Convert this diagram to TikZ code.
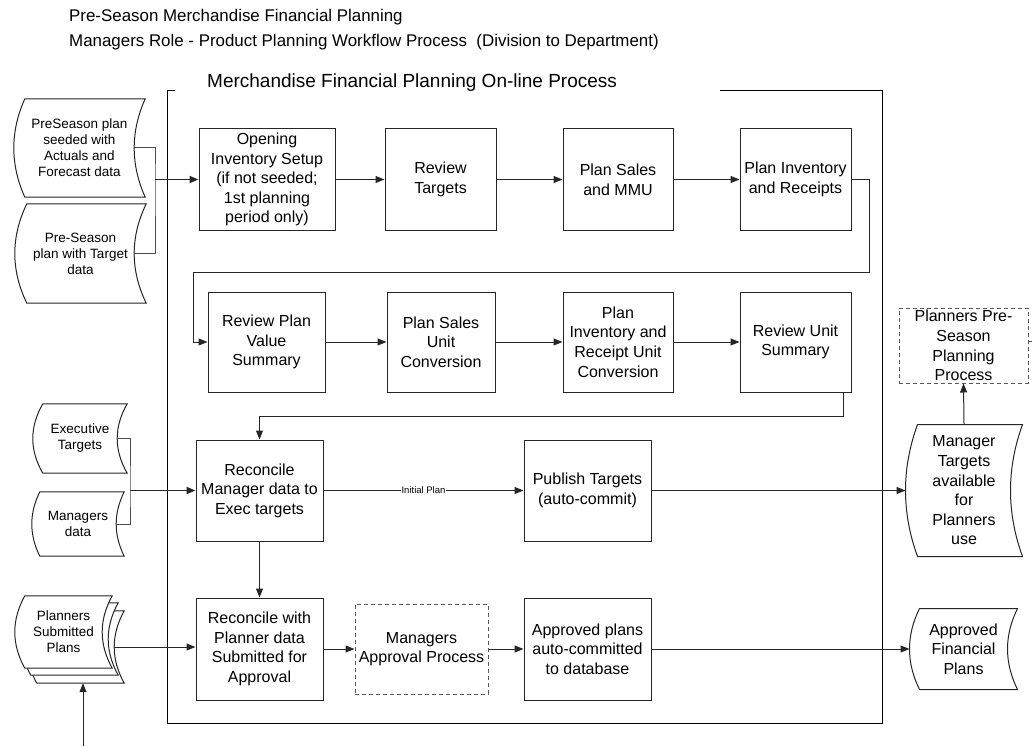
\documentclass[tikz,border=0pt]{standalone}
\usepackage{fontspec}
\setmainfont{Liberation Sans}
\usetikzlibrary{arrows.meta,calc,backgrounds}

\tikzset{
 wh/.style 2 args={minimum width=#1pt,minimum height=#2pt},
 stepbox/.style={draw=black!85,line width=1pt,align=center,inner sep=0pt,
   font=\fontsize{16}{19.6}\selectfont},
 dashbox/.style={stepbox,draw=black!65,dash pattern=on 4pt off 3pt},
 datatext/.style={align=center,inner sep=0pt,font=\fontsize{13.5}{16}\selectfont},
 flow/.style={draw=black!85,line width=1pt,-{Triangle[length=9pt,width=7pt]}},
 feed/.style={flow,line width=1.8pt},
 link/.style={draw=black!70,line width=1pt},
}
% stored data outline round a node: #1 node, #2 bulge
\newcommand\storedoutline[2]{%
 \draw[draw=black!85,line width=1pt,fill=white]
  ($(#1.north west)+(#2/2,0)$) -- ($(#1.north east)+(#2/2,0)$)
  .. controls ($(#1.north east)!.333!(#1.south east)+(#2/2-4*#2/3,0)$)
  and ($(#1.north east)!.667!(#1.south east)+(#2/2-4*#2/3,0)$) .. ($(#1.south east)+(#2/2,0)$)
  -- ($(#1.south west)+(#2/2,0)$)
  .. controls ($(#1.north west)!.667!(#1.south west)+(#2/2-4*#2/3,0)$)
  and ($(#1.north west)!.333!(#1.south west)+(#2/2-4*#2/3,0)$) .. cycle;}

\begin{document}
\begin{tikzpicture}[x=1pt,y=-1pt]
\useasboundingbox (0,0) rectangle (1032,746);
% titles
\node[anchor=west,inner sep=0pt,font=\fontsize{16.9}{20}\selectfont] (title1) at (69,17)
 {Pre-Season Merchandise Financial Planning};
\node[anchor=west,inner sep=0pt,font=\fontsize{16.9}{20}\selectfont] (title2) at (69,42)
 {Managers Role - Product Planning Workflow Process\ \ (Division to Department)};
% on-line process frame
\node[anchor=west,inner sep=0pt,font=\fontsize{19}{23}\selectfont] (frame) at (207,83)
 {Merchandise Financial Planning On-line Process};
\draw[line width=1pt] (175,91) -- (167,91) -- (167,723) -- (882,723) -- (882,91) -- (720,91);

% process rows
\foreach \n/\x/\w/\t in {open/267/136/{Opening\\Inventory Setup\\(if not seeded;\\1st planning\\period only)},
  revt/440.5/111/{Review\\Targets}, sales/618/110/{Plan Sales\\and MMU}, inv/795.5/111/{Plan Inventory\\and Receipts}}
 \node[stepbox,wh={\w}{101}] (\n) at (\x,179.5) {\t};
\foreach \n/\x/\w/\t in {rpv/266.5/117/{Review Plan\\Value\\Summary}, psu/441/108/{Plan Sales\\Unit\\Conversion},
  piu/618/110/{Plan\\Inventory and\\Receipt Unit\\Conversion}, rus/795.5/111/{Review Unit\\Summary}}
 \node[stepbox,wh={\w}{100}] (\n) at (\x,342) {\t};
\node[stepbox,wh={127}{101}] (recm) at (259.5,490.5) {Reconcile\\Manager data to\\Exec targets};
\node[stepbox,wh={127}{101}] (pub) at (587.5,490.5) {Publish Targets\\(auto-commit)};
\node[stepbox,wh={127}{102}] (recp) at (259.5,649) {Reconcile with\\Planner data\\Submitted for\\Approval};
\node[dashbox,wh={133}{90}] (mapp) at (421.5,649) {Managers\\Approval Process};
\node[stepbox,wh={127}{102}] (appr) at (587.5,649) {Approved plans\\auto-committed\\to database};
\node[dashbox,wh={129}{75}] (ppp) at (963.5,345.5) {Planners Pre-\\Season\\Planning\\Process};

% data stores
\node[datatext,wh={120}{98}] (pre1) at (79.5,148) {PreSeason plan\\seeded with\\Actuals and\\Forecast data};
\node[datatext,wh={119}{99}] (pre2) at (80.5,253.5) {Pre-Season\\plan with Target\\data};
\node[datatext,wh={84}{69}] (exec) at (80,438.5) {Executive\\Targets};
\node[datatext,wh={84}{64}] (mgrd) at (78,524) {Managers\\data};
\node[datatext,wh={87}{72}] (plns3) at (75.5,647) {};
\node[datatext,wh={87}{72}] (plns2) at (69.5,639) {};
\node[datatext,wh={87}{72}] (plns) at (63.5,632) {Planners\\Submitted\\Plans};
\node[stepbox,draw=none,wh={104}{131}] (mtgt) at (964,490.5) {Manager\\Targets\\available\\for\\Planners\\use};
\node[stepbox,draw=none,wh={97}{80}] (afp) at (963.5,649) {Approved\\Financial\\Plans};
\begin{scope}[on background layer]
\foreach \n/\b in {pre1/11,pre2/12,exec/10,mgrd/8,plns3/10,plns2/10,plns/10,mtgt/12,afp/10}
 \storedoutline{\n}{\b};
\end{scope}

% connectors
\coordinate (jpre) at (155,179.5);
\coordinate (jexe) at (130,490.5);
\coordinate (turnA) at (869,272);
\coordinate (turnB) at (193,272);
\coordinate (turnC) at (843,416);
\coordinate (offpage) at (1032,341);
\coordinate (feedin) at (83,746);
\draw[link] ([xshift=-5.5pt]pre1.east) -| (jpre) |- ([xshift=-6pt]pre2.east);
\draw[feed] (jpre) -- (open.west);
\foreach \a/\b in {open/revt,revt/sales,sales/inv,rpv/psu,psu/piu,piu/rus,recp/mapp,mapp/appr,recm/recp}
 \draw[flow] (\a) -- (\b);
\draw[flow] (inv.east) -| (turnA) -- (turnB) |- (rpv.west);
\draw[flow] (rus.south -| turnC) -- (turnC) -| (recm.north);
\draw[link] ([xshift=-5pt]exec.east) -| (jexe) |- ([xshift=-4pt]mgrd.east);
\draw[feed] (jexe) -- (recm.west);
\draw[flow] (recm) -- node[fill=white,inner sep=1pt,font=\fontsize{9.5}{11}\selectfont] (initlbl) {Initial Plan} (pub);
\draw[flow] (pub.east) -- ([xshift=-6pt]mtgt.west);
\draw[flow] (mtgt.north) -- (ppp.south);
\draw[link] (offpage -| ppp.east) -- (offpage);
\draw[flow] (appr.east) -- ([xshift=-5pt]afp.west);
\draw[flow] ([xshift=-5pt]plns3.east) -- (recp.west |- plns3.east);
\draw[flow] (feedin) -- (feedin |- plns3.south);
\end{tikzpicture}
\end{document}
